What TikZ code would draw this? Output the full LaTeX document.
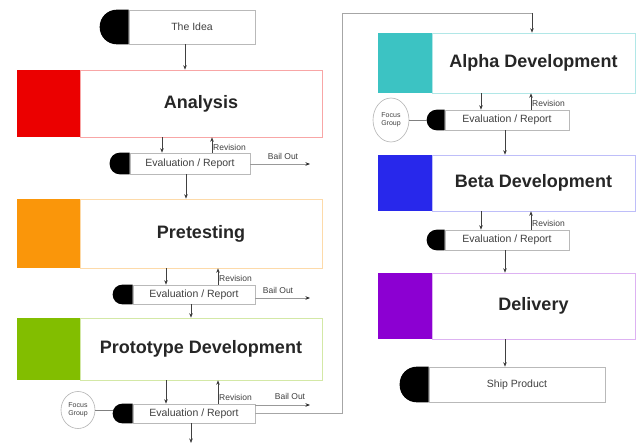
\documentclass[tikz,border=0pt]{standalone}
\usepackage{fontspec}
\setmainfont{Liberation Sans}
\usetikzlibrary{calc,arrows.meta,shapes.geometric}
\definecolor{cred}{RGB}{235,0,0}
\definecolor{corange}{RGB}{250,150,10}
\definecolor{cgreen}{RGB}{130,190,0}
\definecolor{cteal}{RGB}{60,195,195}
\definecolor{cblue}{RGB}{40,40,235}
\definecolor{cpurple}{RGB}{140,0,210}
\newcommand\dcapshape[3]{\fill[black] (#1.north west) [rounded corners=#3] -- ++(-#2,0) -- ($(#1.south west)+(-#2,0)$) [sharp corners] -- (#1.south west) -- cycle;}
\begin{document}
\begin{tikzpicture}[x=1pt,y=-1pt,
  box/.style={draw=gray!55, line width=0.6pt, inner sep=0pt, anchor=center},
  stage/.style={box, font=\bfseries\fontsize{18}{20}\selectfont, text=black!85},
  sq/.style={inner sep=0pt, anchor=east},
  evalbox/.style={box, font=\fontsize{10.5}{12}\selectfont, text=black!75},
  arr/.style={draw=black!75, line width=0.6pt, -{Stealth[length=4.5pt,width=3.5pt]}},
  bail/.style={draw=gray!80, line width=0.8pt, -{Stealth[length=4.5pt,width=3.5pt,color=black!85]}},
  lbl/.style={font=\fontsize{8.5}{10}\selectfont, inner sep=0pt, text=black!75},
  focus/.style={ellipse, draw=gray!60, line width=0.6pt, inner sep=0pt, font=\fontsize{7}{8}\selectfont, align=center, text=black!75},
  loopline/.style={draw=gray!70, line width=1pt}
]
\useasboundingbox[fill=white] (0,0) rectangle (641,447);

% ---------- stages ----------
\node[stage, draw=cred!35, minimum width=242, minimum height=67] (ana) at (201,103.5) {Analysis};
\node[sq, fill=cred, minimum width=63, minimum height=67] (anasq) at (ana.west) {};
\node[stage, draw=corange!35, minimum width=242, minimum height=69] (pre) at (201,233.5) {Pretesting};
\node[sq, fill=corange, minimum width=63, minimum height=69] (presq) at (pre.west) {};
\node[stage, draw=cgreen!35, minimum width=242, minimum height=62] (pro) at (201,349) {Prototype Development};
\node[sq, fill=cgreen, minimum width=63, minimum height=62] (prosq) at (pro.west) {};

\node[stage, draw=cteal!40, minimum width=203, minimum height=60] (alp) at (533.5,63) {Alpha Development};
\node[sq, fill=cteal, minimum width=54, minimum height=60] (alpsq) at (alp.west) {};
\node[stage, draw=cblue!30, minimum width=203, minimum height=56] (bet) at (533.5,183) {Beta Development};
\node[sq, fill=cblue, minimum width=54, minimum height=56] (betsq) at (bet.west) {};
\node[stage, draw=cpurple!30, minimum width=203, minimum height=66] (del) at (533.5,306) {Delivery};
\node[sq, fill=cpurple, minimum width=54, minimum height=66] (delsq) at (del.west) {};

% ---------- terminals and evaluation bars ----------
\node[evalbox, minimum width=126, minimum height=34] (idea) at (192,27) {The Idea};
\dcapshape{idea}{29}{17}
\node[evalbox, minimum width=176, minimum height=35] (ship) at (517,384.5) {Ship Product};
\dcapshape{ship}{29}{17}

\node[evalbox, minimum width=120, minimum height=21] (e1) at (190,163.5) {Evaluation / Report};
\dcapshape{e1}{20}{10}
\node[evalbox, minimum width=122, minimum height=19] (e2) at (194,294.5) {Evaluation / Report};
\dcapshape{e2}{20}{9.5}
\node[evalbox, minimum width=122, minimum height=19] (e3) at (194,413.5) {Evaluation / Report};
\dcapshape{e3}{20}{9.5}
\node[evalbox, minimum width=124, minimum height=20] (ea) at (507,120) {Evaluation / Report};
\dcapshape{ea}{18}{10}
\node[evalbox, minimum width=124, minimum height=20] (eb) at (507,240) {Evaluation / Report};
\dcapshape{eb}{18}{10}

% ---------- focus groups ----------
\node[focus, minimum width=34, minimum height=37] (fg1) at (78,410) {Focus\\Group};
\coordinate (e3d) at ($(e3.west)+(-20,0)$);
\draw[gray, line width=0.6pt] (fg1.east) -- (fg1.east -| e3d);
\node[focus, minimum width=36, minimum height=44] (fg2) at (391,120) {Focus\\Group};
\coordinate (ead) at ($(ea.west)+(-18,0)$);
\draw[gray, line width=0.6pt] (fg2.east) -- (ead);

% ---------- left column connectors ----------
\draw[arr] (185,0 |- idea.south) -- (185,0 |- ana.north);
\draw[arr] (162,0 |- ana.south) -- (162,0 |- e1.north);
\draw[arr] (212,0 |- e1.north) -- (212,0 |- ana.south);
\node[lbl, anchor=west] (r1) at (213,147) {Revision};
\coordinate (b1) at (310,164);
\draw[bail] (e1.east |- b1) -- (b1);
\node[lbl] (bl1) at (283,156) {Bail Out};
\draw[arr] (186,0 |- e1.south) -- (186,0 |- pre.north);

\draw[arr] (166,0 |- pre.south) -- (166,0 |- e2.north);
\draw[arr] (218,0 |- e2.north) -- (218,0 |- pre.south);
\node[lbl, anchor=west] (r2) at (219,278) {Revision};
\coordinate (b2) at (310,298);
\draw[bail] (e2.east |- b2) -- (b2);
\node[lbl] (bl2) at (278,290) {Bail Out};
\draw[arr] (191,0 |- e2.south) -- (191,0 |- pro.north);

\draw[arr] (166,0 |- pro.south) -- (166,0 |- e3.north);
\draw[arr] (218,0 |- e3.north) -- (218,0 |- pro.south);
\node[lbl, anchor=west] (r3) at (219,397) {Revision};
\coordinate (b3) at (310,405);
\draw[bail] (e3.east |- b3) -- (b3);
\node[lbl] (bl3) at (290,396) {Bail Out};
\coordinate (down3) at (191,443);
\draw[arr] (191,0 |- e3.south) -- (down3);

% ---------- loop to alpha ----------
\coordinate (lp1) at (342,413);
\coordinate (lp2) at (342,13);
\coordinate (lp3) at (532,13);
\draw[loopline] (e3.east |- lp1) -- (lp1) -- (lp2) -- (lp3);
\draw[arr] (lp3) -- (532,0 |- alp.north);

% ---------- right column connectors ----------
\draw[arr] (481,0 |- alp.south) -- (481,0 |- ea.north);
\draw[arr] (531,0 |- ea.north) -- (531,0 |- alp.south);
\node[lbl, anchor=west] (ra) at (532,103) {Revision};
\draw[arr] (505,0 |- ea.south) -- (505,0 |- bet.north);

\draw[arr] (481,0 |- bet.south) -- (481,0 |- eb.north);
\draw[arr] (531,0 |- eb.north) -- (531,0 |- bet.south);
\node[lbl, anchor=west] (rb) at (532,223) {Revision};
\draw[arr] (505,0 |- eb.south) -- (505,0 |- del.north);

\draw[arr] (505,0 |- del.south) -- (505,0 |- ship.north);
\end{tikzpicture}
\end{document}
